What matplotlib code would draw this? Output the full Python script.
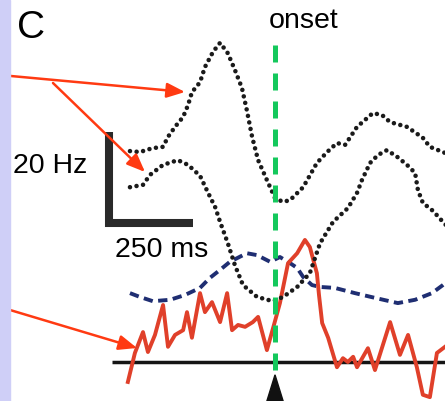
import matplotlib
matplotlib.use("Agg")
import matplotlib.pyplot as plt

# ---------------- data (time in ms relative to onset, frequency in Hz) -------------
upper_t = [-412, -384, -349, -318, -304, -284, -261, -247, -236, -213, -199, -176,
           -156, -134, -114, -94, -80, -65, -48, -23, 0, 23, 43, 80, 119, 148, 176,
           199, 233, 278, 304, 327, 375, 420, 440, 477, 490]
upper_f = [44.4, 44.2, 45.0, 45.3, 47.4, 49.5, 51.6, 54.1, 56.8, 58.9, 62.1, 65.3,
           67.2, 65.0, 61.5, 57.7, 53.0, 47.4, 42.5, 38.3, 34.5, 33.7, 34.1, 36.8,
           41.9, 44.2, 46.1, 45.7, 49.5, 52.4, 52.0, 50.5, 49.5, 47.2, 45.3, 44.2, 43.8]

lower_t = [-412, -375, -355, -318, -276, -247, -213, -190, -170, -156, -134, -114,
           -91, -51, -6, 23, 63, 99, 128, 165, 207, 233, 247, 270, 293, 318, 347,
           375, 398, 406, 420, 449, 477, 490]
lower_f = [36.8, 37.3, 39.4, 41.5, 42.5, 41.5, 39.2, 35.6, 32.6, 29.5, 25.0, 20.4,
           16.2, 13.7, 12.8, 13.7, 15.8, 18.7, 25.0, 29.5, 32.4, 35.6, 38.3, 41.9,
           43.6, 44.6, 43.2, 41.5, 39.8, 36.2, 33.5, 31.8, 29.5, 28.5]

blue_t = [-412, -384, -347, -298, -256, -213, -185, -156, -128, -80, -51, -14, 14,
          43, 63, 80, 105, 128, 170, 227, 284, 349, 398, 446, 477, 490]
blue_f = [14.5, 13.7, 12.8, 13.1, 14.1, 15.6, 17.7, 19.4, 21.1, 22.9, 22.5, 21.1,
          22.1, 20.8, 19.8, 17.9, 16.2, 15.8, 15.6, 14.5, 13.5, 12.4, 13.1, 14.5,
          16.2, 17.0]

red_t = [-418, -398, -375, -361, -341, -318, -304, -284, -261, -250, -236, -213,
         -199, -179, -156, -136, -122, -105, -85, -63, -48, -23, -3, 14, 37, 63,
         85, 99, 119, 125, 134, 151, 176, 193, 207, 222, 233, 264, 284, 327, 355,
         378, 403, 420, 440, 460, 483]
red_f = [-4.2, 1.9, 6.3, 2.1, 5.7, 12.0, 3.2, 5.7, 6.7, 10.5, 5.1, 14.5, 10.5, 12.6,
         8.4, 14.5, 6.7, 7.8, 7.4, 8.4, 9.5, 2.5, 7.8, 12.4, 20.8, 22.9, 25.7, 24.2,
         18.7, 14.1, 8.2, 5.1, -1.1, 0.8, 0.0, 1.1, -1.1, 2.9, -1.7, 8.4, 1.5, 5.7,
         -1.1, -6.9, -7.4, 1.9, 3.2]

onset_ms = 0
baseline_start_ms = -463
scale_ms = 250
scale_hz = 20

# ---------------- figure ----------------
W, H = 445, 401
fig = plt.figure(figsize=(W / 100, H / 100), dpi=100)
fig.patch.set_facecolor("white")
ax = fig.add_axes([0, 0, 1, 1])
MS_PER_PX = 250 / 88
HZ_PER_PX = 20 / 95
x0_px, y0_px = 275, 362     # pixel of (0 ms, 0 Hz)
ax.set_xlim(-x0_px * MS_PER_PX, (W - x0_px) * MS_PER_PX)
ax.set_ylim(-(H - y0_px) * HZ_PER_PX, y0_px * HZ_PER_PX)
ax.axis("off")

# lavender strip on the left
fig.patches.append(plt.Rectangle((0, 0), 10 / W, 1, transform=fig.transFigure,
                                 color="#CFCFF7", zorder=0))

# baseline
ax.plot([baseline_start_ms, ax.get_xlim()[1]], [0, 0], color="#151515", lw=2.5,
        solid_capstyle="butt", zorder=2)

# blue dashed
ax.plot(blue_t, blue_f, color="#1F2E72", lw=2.8, ls=(0, (2.4, 1.4)),
        dash_capstyle="butt", zorder=3)

# red
ax.plot(red_t, red_f, color="#E0402A", lw=2.8, solid_joinstyle="round", zorder=4)

# dotted black curves
for tt, ff in ((upper_t, upper_f), (lower_t, lower_f)):
    ax.plot(tt, ff, color="#1A1A1A", lw=3.3, ls=(0, (0.001, 1.45)),
            dash_capstyle="round", zorder=5)

# onset green dashed line
ax.plot([onset_ms, onset_ms], [66.7, -1.7], color="#14C85C", lw=3.6,
        ls=(0, (3.4, 2.2)), dash_capstyle="butt", zorder=6)

# onset triangle
tri_w = 10 * MS_PER_PX
ax.fill([onset_ms - tri_w, onset_ms, onset_ms + tri_w], [-9.5, -2.7, -9.5],
        color="#111111", zorder=7, clip_on=True)

# scale bar (L)
corner_t = -483
corner_f = 28.4
half = 4
tc = corner_t + half * MS_PER_PX
fc = corner_f + half * HZ_PER_PX
ax.plot([tc, tc, corner_t + scale_ms], [corner_f + scale_hz, fc, fc],
        color="#2A2A2A", lw=5.8, solid_capstyle="butt", solid_joinstyle="miter",
        zorder=5)

# texts
def fx(x):
    return x / W

def fy(y):
    return 1 - y / H

font = "Liberation Sans"
fig.text(fx(17), fy(37.5), "C", fontsize=28, family=font, va="baseline", ha="left")
fig.text(fx(304), fy(28), "onset", fontsize=20.5, family=font, va="baseline", ha="center")
fig.text(fx(13), fy(173), "20 Hz", fontsize=20.5, family=font, va="baseline", ha="left")
fig.text(fx(115), fy(257), "250 ms", fontsize=20.5, family=font, va="baseline", ha="left")

# red arrows (figure pixel coordinates)
arrow_kw = dict(arrowstyle="-|>,head_length=11,head_width=4.5", color="#FF3A12",
                lw=1.8, mutation_scale=1, shrinkA=0, shrinkB=0)
for (sx, sy), (ex, ey) in (((0, 75), (185, 92)), ((53, 83), (145, 172)),
                           ((0, 307), (137, 348))):
    ax.annotate("", xy=(ex, H - ey), xytext=(sx, H - sy), xycoords="figure pixels",
                textcoords="figure pixels", arrowprops=arrow_kw, zorder=8)

fig.savefig("out.png", dpi=100)
